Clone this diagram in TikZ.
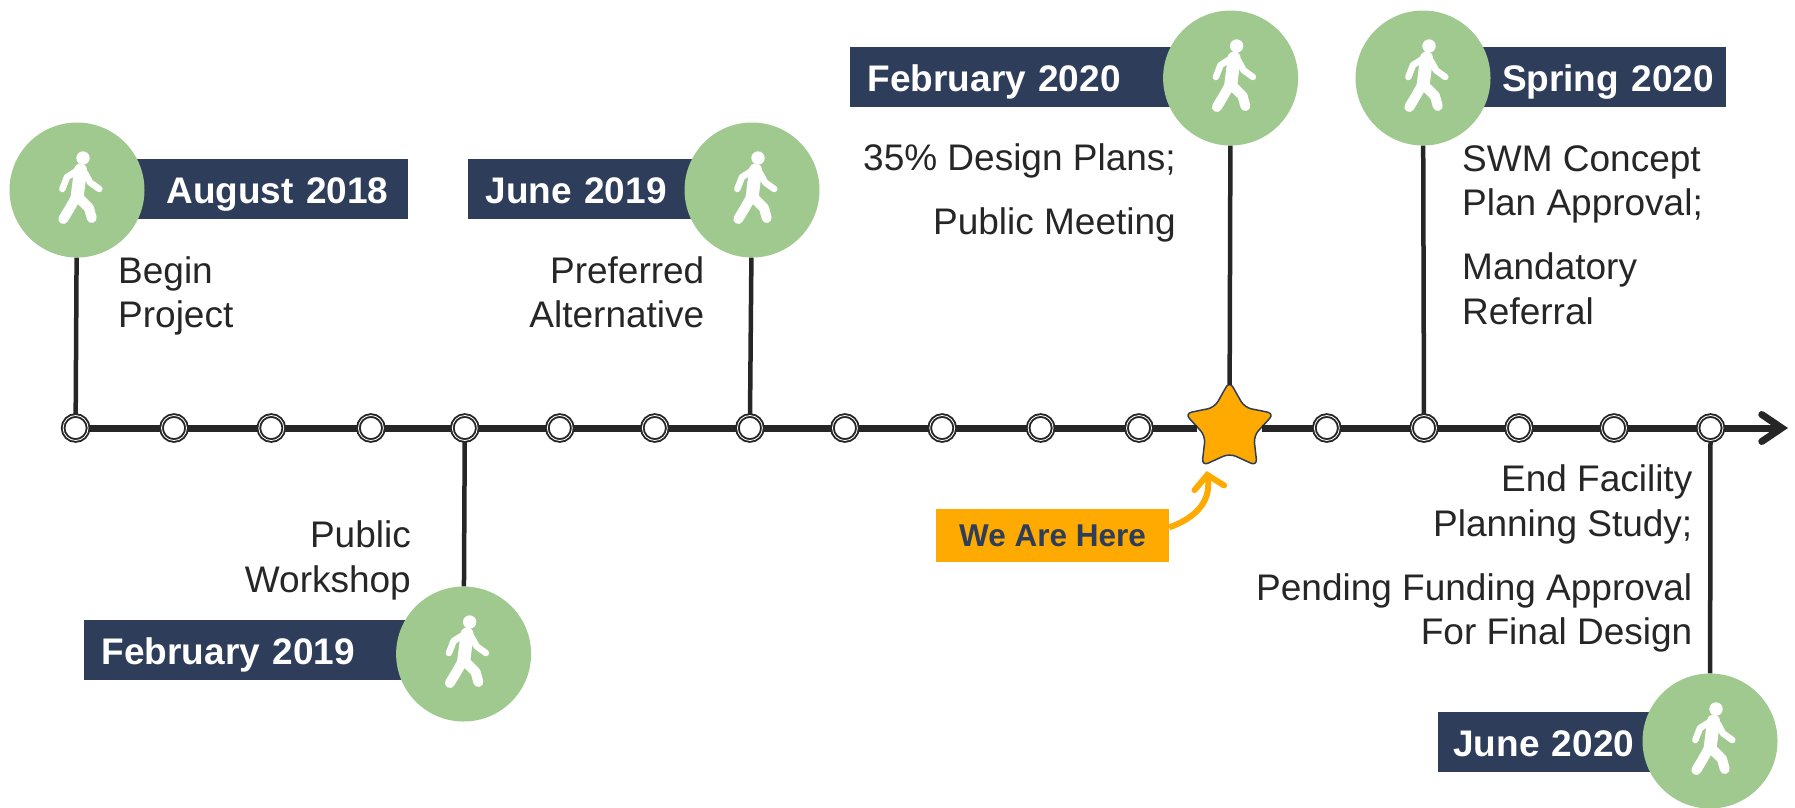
\documentclass[tikz,border=0pt]{standalone}
\usepackage{fontspec}
\setmainfont{Liberation Sans}
\usepackage{xcolor}
\usetikzlibrary{arrows.meta,shapes.geometric}
\definecolor{navy}{HTML}{2D3D5A}
\definecolor{leaf}{HTML}{A0C98F}
\definecolor{amber}{HTML}{FFAA00}
\definecolor{ink}{HTML}{262626}
\tikzstyle{milestone}	=[circle,fill=leaf,minimum size=135pt,inner sep=0pt]
\tikzstyle{tick}		=[circle,draw=ink,fill=white,line width=1.9pt,double=white,double distance=0.8pt,minimum size=25pt,inner sep=0pt]
\tikzstyle{here}		=[star,star points=5,star point ratio=1.85,draw=navy,fill=amber,line width=1.5pt,minimum size=94pt,inner sep=0pt,rounded corners=7pt]
\tikzstyle{datebar}		=[fill=navy,text=white,font=\fontsize{37}{44.6}\selectfont\bfseries,minimum height=60pt,inner ysep=0pt,text height=29pt,text depth=0pt]
\tikzstyle{note}		=[text=ink,font=\fontsize{37}{44.6}\selectfont,inner sep=0pt]
\tikzstyle{callout}		=[fill=amber,text=navy,font=\fontsize{31.5}{36}\selectfont\bfseries,minimum width=233pt,minimum height=53pt,inner sep=0pt]
\tikzstyle{edgeaxis}	=[draw,ink,line width=7pt]
\tikzstyle{edgestem}	=[draw,ink,line width=4.5pt]
\tikzstyle{edgecall}	=[draw,amber,line width=6pt,-{Straight Barb[length=13pt,width=30pt,line cap=round]}]
\tikzset{walker/.pic={
	\fill[white] (6,-32) circle (6.7);
	\draw[white,line width=13pt,line cap=round] (3.5,-20) -- (0,8);
	\draw[white,line width=6.5pt,line cap=round,line join=round] (2.3,-20.7) -- (-10,-13) -- (-14.7,-1);
	\draw[white,line width=6.5pt,line cap=round,line join=round] (8,-17) -- (13,-7.7) -- (22.3,-1);
	\draw[white,line width=10pt,line cap=round,line join=round] (-2,9) -- (-7.7,19) -- (-13.7,29);
	\draw[white,line width=10pt,line cap=round,line join=round] (3,9) -- (12,18) -- (14.7,28);
}}

\begin{document}
\begin{tikzpicture}[x=1pt,y=-1pt]
	\useasboundingbox (0,0) rectangle (1795,807);

	%%%% date bars
	\node[datebar,anchor=east,text width=260pt,align=right,inner xsep=20pt] (b1) at (408.6,189) {August 2018};
	\node[datebar,anchor=west,text width=250pt,align=left,inner xsep=18pt] (b2) at (467.5,189) {June 2019};
	\node[datebar,anchor=west,text width=330pt,align=left,inner xsep=18pt] (b3) at (849.5,77) {February 2020};
	\node[datebar,anchor=east,text width=290pt,align=right,inner xsep=12pt] (b4) at (1726,77) {Spring 2020};
	\node[datebar,anchor=west,text width=330pt,align=left,inner xsep=18pt] (b5) at (83.6,650) {February 2019};
	\node[datebar,anchor=west,text width=230pt,align=left,inner xsep=15pt] (b6) at (1438,742) {June 2020};

	%%%% milestones
	\foreach \pos/\name in {{(77,190)/c1}, {(752,190)/c2}, {(1230.6,78)/c3}, {(1423,78)/c4}, {(463.6,654)/c5}, {(1710,741)/c6}}
	{
		\node[milestone] (\name) at \pos {};
		\pic at (\name) {walker};
	}

	%%%% timeline
	\foreach \pos/\name in {{(75.6,428)/d1}, {(174,428)/d2}, {(271.3,428)/d3}, {(370.9,428)/d4}, {(464.8,428)/d5}, {(559.8,428)/d6}, {(654.8,428)/d7}, {(749.9,428)/d8}, {(844.9,428)/d9}, {(942.2,428)/d10}, {(1040.6,428)/d11}, {(1139,428)/d12}, {(1326.8,428)/d13}, {(1424,428)/d14}, {(1519,428)/d15}, {(1614,428)/d16}, {(1710.5,428)/d17}}
	\node[tick] (\name) at \pos {};
	\node[here] (star) at (1229.5,428) {};
	\coordinate (tip) at (1788,428);

	\foreach \source/ \dest in {d1/d2,d2/d3,d3/d4,d4/d5,d5/d6,d6/d7,d7/d8,d8/d9,d9/d10,d10/d11,d11/d12,d12/star,star/d13,d13/d14,d14/d15,d15/d16,d16/d17}	\path[edgeaxis] (\source) -- (\dest) ;
	\path[edgeaxis,-{Straight Barb[length=20pt,width=27pt,line cap=round]}] (d17) -- (tip) ;

	%%%% stems
	\foreach \source/ \dest in {c1/d1,c2/d8,c4/d14,c5/d5,c6/d17}	\path[edgestem] (\source) -- (\dest) ;
	\path[edgestem,shorten >=-5pt] (c3) -- (star) ;

	%%%% notes
	\node[note,anchor=north west,align=left] (n1) at (118,256) {Begin\\Project};
	\node[note,anchor=north east,align=right] (n2) at (704.5,256) {Preferred\\Alternative};
	\node[note,anchor=north east,align=right] (n3) at (1176,143) {35\% Design Plans;\\[19.5pt]Public Meeting};
	\node[note,anchor=north west,align=left] (n4) at (1462,145) {SWM Concept\\Plan Approval;\\[19.5pt]Mandatory\\Referral};
	\node[note,anchor=north east,align=right] (n5) at (411,520.6) {Public\\Workshop};
	\node[note,anchor=north east,align=right] (n6) at (1692.5,464.5) {End Facility\\Planning Study;\\[19.5pt]Pending Funding Approval\\For Final Design};

	%%%% we are here
	\node[callout] (call) at (1052.5,535.5) {We Are Here};
	\coordinate (callend) at (1206.7,471);
	\path[edgecall] (call.4) .. controls (1190,520) and (1212,505) .. (callend) ;
\end{tikzpicture}
\end{document}
